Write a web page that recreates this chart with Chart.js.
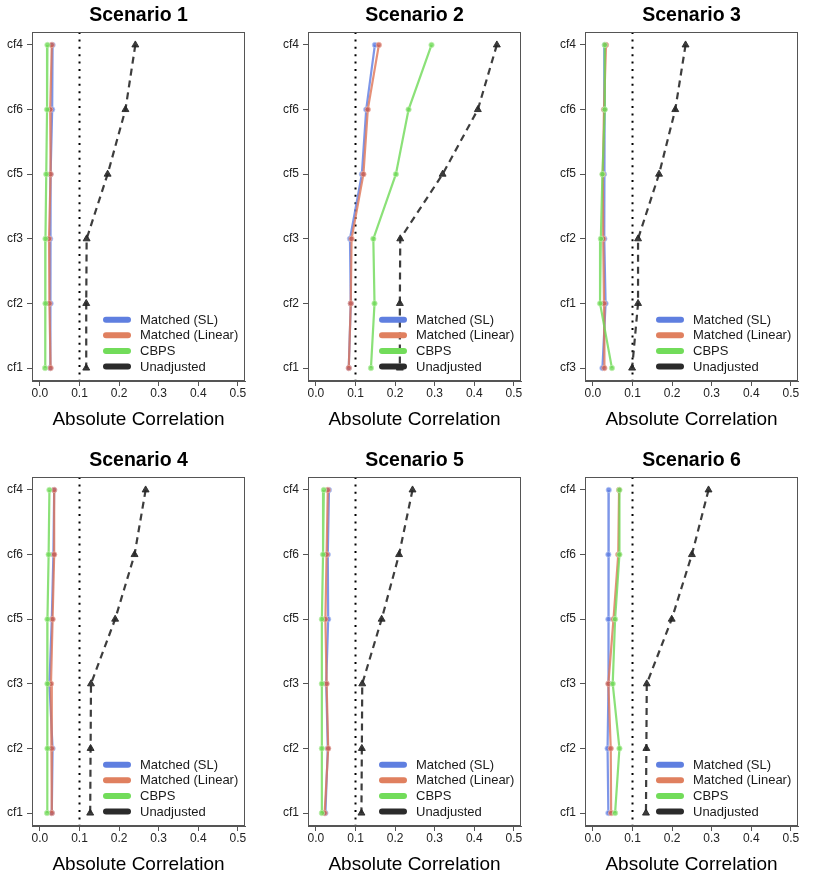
<!DOCTYPE html>
<html>
<head>
<meta charset="utf-8">
<script src="https://cdn.jsdelivr.net/npm/chart.js@4.4.1/dist/chart.umd.min.js"></script>
<style>
  body { margin: 0; background: #fff; width: 830px; height: 890px; position: relative; overflow: hidden; }
  canvas { position: absolute; }
</style>
</head>
<body>
<canvas id="c1" width="276" height="445" style="left:0;top:0"></canvas>
<canvas id="c2" width="276" height="445" style="left:276px;top:0"></canvas>
<canvas id="c3" width="276" height="445" style="left:553px;top:0"></canvas>
<canvas id="c4" width="276" height="445" style="left:0;top:445px"></canvas>
<canvas id="c5" width="276" height="445" style="left:276px;top:445px"></canvas>
<canvas id="c6" width="276" height="445" style="left:553px;top:445px"></canvas>
<script>
// categories, listed top to bottom as they appear on the y axis
const covariates = ["cf4", "cf6", "cf5", "cf3", "cf2", "cf1"];
const covariatesS3 = ["cf4", "cf6", "cf5", "cf2", "cf1", "cf3"];
const seriesNames = ["Matched (SL)", "Matched (Linear)", "CBPS", "Unadjusted"];
const xTicks = [0, 0.1, 0.2, 0.3, 0.4, 0.5];

// Scenario 1
const s1SL = [0.032, 0.031, 0.027, 0.026, 0.027, 0.026];
const s1Linear = [0.030, 0.026, 0.027, 0.023, 0.024, 0.027];
const s1CBPS = [0.019, 0.018, 0.016, 0.014, 0.014, 0.013];
const s1Unadj = [0.241, 0.216, 0.171, 0.118, 0.117, 0.117];
// Scenario 2
const s2SL = [0.149, 0.127, 0.116, 0.086, 0.088, 0.083];
const s2Linear = [0.159, 0.131, 0.120, 0.090, 0.088, 0.083];
const s2CBPS = [0.292, 0.234, 0.202, 0.145, 0.148, 0.139];
const s2Unadj = [0.457, 0.409, 0.320, 0.213, 0.212, 0.212];
// Scenario 3 (different covariate order)
const s3SL = [0.030, 0.029, 0.028, 0.029, 0.032, 0.024];
const s3Linear = [0.033, 0.028, 0.025, 0.026, 0.028, 0.029];
const s3CBPS = [0.030, 0.030, 0.024, 0.020, 0.018, 0.048];
const s3Unadj = [0.234, 0.208, 0.167, 0.114, 0.114, 0.099];
// Scenario 4
const s4SL = [0.036, 0.034, 0.030, 0.024, 0.032, 0.030];
const s4Linear = [0.036, 0.036, 0.032, 0.028, 0.030, 0.030];
const s4CBPS = [0.024, 0.022, 0.019, 0.019, 0.019, 0.018];
const s4Unadj = [0.267, 0.239, 0.190, 0.129, 0.128, 0.127];
// Scenario 5
const s5SL = [0.033, 0.030, 0.031, 0.026, 0.030, 0.024];
const s5Linear = [0.030, 0.027, 0.024, 0.027, 0.031, 0.022];
const s5CBPS = [0.020, 0.018, 0.015, 0.015, 0.015, 0.015];
const s5Unadj = [0.244, 0.210, 0.166, 0.117, 0.116, 0.115];
// Scenario 6
const s6SL = [0.040, 0.039, 0.039, 0.040, 0.037, 0.039];
const s6Linear = [0.066, 0.064, 0.052, 0.039, 0.045, 0.046];
const s6CBPS = [0.067, 0.067, 0.056, 0.050, 0.067, 0.056];
const s6Unadj = [0.292, 0.250, 0.199, 0.136, 0.135, 0.134];

const threshold = 0.1;

const COLORS = [
    { line: "rgba(92,124,226,0.8)", point: "rgba(92,124,226,0.8)", edge: "rgba(190,205,245,0.9)", key: "#5f7fe0" },
    { line: "rgba(222,116,86,0.8)", point: "rgba(200,95,85,0.8)", edge: "rgba(240,180,165,0.9)", key: "#e0805f" },
    { line: "rgba(110,218,86,0.8)", point: "rgba(110,218,86,0.8)", edge: "rgba(195,240,180,0.9)", key: "#72dc5a" },
    { line: "rgba(40,40,40,0.9)", point: "rgba(40,40,40,0.9)", edge: "rgba(40,40,40,0.9)", key: "#2b2b2b" }
];
const DRAW_ORDER = [2, 1, 0, 3];

const FONT = "'Liberation Sans', Arial, Helvetica, sans-serif";

const panelDecor = {
    id: "panelDecor",
    beforeDatasetsDraw(chart) {
        const { ctx, chartArea, scales } = chart;
        const x = scales.x.getPixelForValue(threshold);
        ctx.save();
        ctx.strokeStyle = "#000";
        ctx.lineWidth = 2;
        ctx.setLineDash([2, 5.4]);
        ctx.beginPath();
        ctx.moveTo(x, chartArea.top);
        ctx.lineTo(x, chartArea.bottom);
        ctx.stroke();
        ctx.restore();
    },
    afterDraw(chart) {
        const { ctx, chartArea } = chart;
        ctx.save();
        ctx.strokeStyle = "#555";
        ctx.lineWidth = 1;
        ctx.strokeRect(chartArea.left + 0.5, chartArea.top + 0.5,
            chartArea.right - chartArea.left - 1, chartArea.bottom - chartArea.top - 1);

        // legend inside the bottom right corner
        const right = chartArea.right;
        chart.data.datasets.forEach((ds, i) => {
            const y = chartArea.bottom - 14.5 - (3 - i) * 15.6;
            ctx.strokeStyle = COLORS[i].key;
            ctx.lineWidth = 6;
            ctx.lineCap = "round";
            ctx.setLineDash([]);
            ctx.beginPath();
            ctx.moveTo(right - 139, y);
            ctx.lineTo(right - 117, y);
            ctx.stroke();
            ctx.fillStyle = "#1a1a1a";
            ctx.font = "13px " + FONT;
            ctx.textBaseline = "middle";
            ctx.textAlign = "left";
            ctx.fillText(ds.label, right - 105, y + 0.5);
        });
        ctx.restore();
    }
};

function toPoints(values) {
    return values.map((v, i) => ({ x: v, y: values.length - i }));
}

function makePanel(id, title, cats, sl, linear, cbps, unadj) {
    const series = [sl, linear, cbps, unadj];
    const datasets = series.map((vals, i) => {
        const unadjusted = i === 3;
        return {
            label: seriesNames[i],
            data: toPoints(vals),
            order: DRAW_ORDER[i],
            borderColor: COLORS[i].line,
            backgroundColor: COLORS[i].point,
            borderWidth: 2.2,
            borderDash: unadjusted ? [7, 5] : [],
            pointStyle: unadjusted ? "triangle" : "circle",
            pointRadius: unadjusted ? 4 : 2.7,
            pointBorderWidth: unadjusted ? 1 : 0.8,
            pointBorderColor: COLORS[i].edge,
            pointBackgroundColor: COLORS[i].point,
            tension: 0,
            fill: false
        };
    });

    new Chart(document.getElementById(id), {
        type: "line",
        data: { datasets: datasets },
        options: {
            responsive: false,
            animation: false,
            devicePixelRatio: 1,
            layout: { padding: { top: 0, left: 0, right: 31, bottom: 0 } },
            plugins: {
                legend: { display: false },
                tooltip: { enabled: false },
                title: {
                    display: true,
                    fullSize: false,
                    text: title,
                    color: "#000",
                    font: { family: FONT, size: 19.5, weight: "bold" },
                    padding: { top: 4, bottom: 4.6 }
                }
            },
            scales: {
                x: {
                    type: "linear",
                    min: -0.02,
                    max: 0.518,
                    afterBuildTicks(axis) { axis.ticks = xTicks.map(v => ({ value: v })); },
                    afterFit(axis) { axis.height = 64; },
                    ticks: {
                        color: "#222",
                        font: { family: FONT, size: 12 },
                        padding: 0,
                        maxRotation: 0,
                        callback: v => v.toFixed(1)
                    },
                    grid: { drawOnChartArea: false, drawTicks: true, tickLength: 5, color: "#555" },
                    border: { display: true, color: "#555" },
                    title: {
                        display: true,
                        text: "Absolute Correlation",
                        color: "#000",
                        font: { family: FONT, size: 19 },
                        padding: { top: 0, bottom: 13.6 }
                    }
                },
                y: {
                    type: "linear",
                    min: 0.8,
                    max: 6.2,
                    afterBuildTicks(axis) { axis.ticks = [1, 2, 3, 4, 5, 6].map(v => ({ value: v })); },
                    afterFit(axis) { axis.width = 32; },
                    ticks: {
                        color: "#222",
                        font: { family: FONT, size: 12 },
                        padding: 4,
                        callback: v => cats[cats.length - v]
                    },
                    grid: { drawOnChartArea: false, drawTicks: true, tickLength: 5, color: "#555" },
                    border: { display: true, color: "#555" }
                }
            }
        },
        plugins: [panelDecor]
    });
}

makePanel("c1", "Scenario 1", covariates, s1SL, s1Linear, s1CBPS, s1Unadj);
makePanel("c2", "Scenario 2", covariates, s2SL, s2Linear, s2CBPS, s2Unadj);
makePanel("c3", "Scenario 3", covariatesS3, s3SL, s3Linear, s3CBPS, s3Unadj);
makePanel("c4", "Scenario 4", covariates, s4SL, s4Linear, s4CBPS, s4Unadj);
makePanel("c5", "Scenario 5", covariates, s5SL, s5Linear, s5CBPS, s5Unadj);
makePanel("c6", "Scenario 6", covariates, s6SL, s6Linear, s6CBPS, s6Unadj);
</script>
</body>
</html>
